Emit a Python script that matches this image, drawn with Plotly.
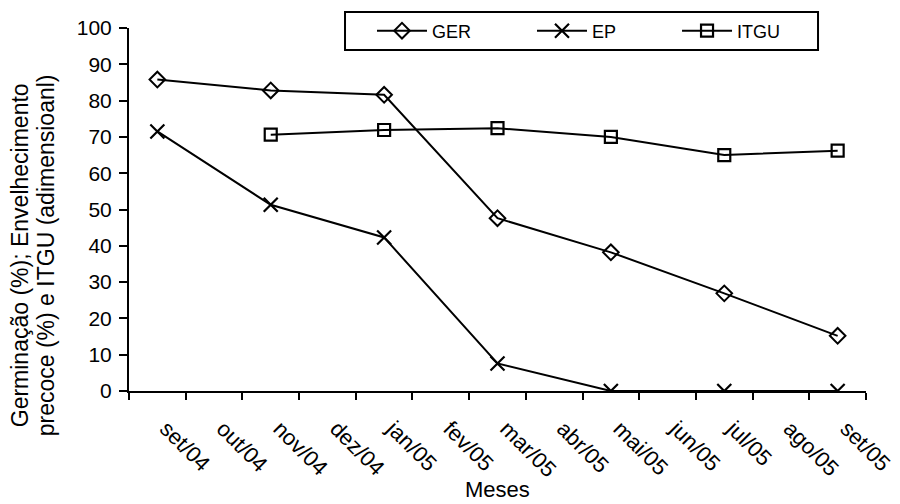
import plotly.graph_objects as go

months = ["set/04", "out/04", "nov/04", "dez/04", "jan/05", "fev/05", "mar/05",
          "abr/05", "mai/05", "jun/05", "jul/05", "ago/05", "set/05"]

ger_x = ["set/04", "nov/04", "jan/05", "mar/05", "mai/05", "jul/05", "set/05"]
ger_y = [85.8, 82.8, 81.6, 47.6, 38.2, 26.9, 15.2]

ep_x = ["set/04", "nov/04", "jan/05", "mar/05", "mai/05", "jul/05", "set/05"]
ep_y = [71.5, 51.3, 42.3, 7.6, 0, 0, 0]

itgu_x = ["nov/04", "jan/05", "mar/05", "mai/05", "jul/05", "set/05"]
itgu_y = [70.6, 71.9, 72.4, 70.0, 65.0, 66.2]

FONT = "Liberation Sans, Arial, sans-serif"

fig = go.Figure()
fig.add_trace(go.Scatter(x=ger_x, y=ger_y, name="GER", mode="lines+markers",
                         legend="legend",
                         line=dict(color="black", width=2),
                         marker=dict(symbol="diamond-open", size=12, color="black",
                                     line=dict(width=2, color="black"))))
fig.add_trace(go.Scatter(x=ep_x, y=ep_y, name="EP", mode="lines+markers",
                         legend="legend2",
                         line=dict(color="black", width=2),
                         marker=dict(symbol="x-thin-open", size=14, color="black",
                                     line=dict(width=2.2, color="black"))))
fig.add_trace(go.Scatter(x=itgu_x, y=itgu_y, name="ITGU", mode="lines+markers",
                         legend="legend3",
                         line=dict(color="black", width=2),
                         marker=dict(symbol="square-open", size=12, color="black",
                                     line=dict(width=2.2, color="black"))))

leg_common = dict(orientation="h", yanchor="middle", xanchor="left", y=0.9917,
                  borderwidth=0, bgcolor="rgba(0,0,0,0)",
                  font=dict(size=18, family=FONT), itemwidth=50)

fig.update_layout(
    width=892, height=496,
    margin=dict(l=121, r=34, t=20, b=113, autoexpand=False),
    paper_bgcolor="white", plot_bgcolor="white",
    font=dict(family=FONT, size=20, color="black"),
    showlegend=True,
    legend=dict(x=0.3297, **leg_common),
    legend2=dict(x=0.5468, **leg_common),
    legend3=dict(x=0.7436, **leg_common),
    xaxis=dict(type="category", categoryorder="array", categoryarray=months,
               range=[-0.5, 12.5], tickmode="array", tickvals=months, ticktext=months,
               tickson="boundaries", ticks="outside", ticklen=7, tickwidth=2,
               tickcolor="black", showline=True, linecolor="black", linewidth=2,
               showgrid=False, zeroline=False, tickangle=45, ticklabelstandoff=14,
               ticklabelshift=9,
               tickfont=dict(size=22, family=FONT)),
    yaxis=dict(range=[0, 100], tickvals=list(range(0, 101, 10)), ticks="outside",
               ticklen=8, tickwidth=2, tickcolor="black", showline=True,
               linecolor="black", linewidth=2, showgrid=False, zeroline=False,
               ticklabelstandoff=3,
               tickfont=dict(size=21, family=FONT)),
)

fig.add_shape(type="rect", xref="paper", yref="paper",
              x0=0.2931, x1=0.9349, y0=0.9394, y1=1.0441,
              line=dict(color="black", width=2), fillcolor="rgba(0,0,0,0)",
              layer="above")

fig.add_annotation(text="Meses", xref="paper", yref="paper", x=0.5, y=-0.2727,
                   xanchor="center", yanchor="middle", showarrow=False,
                   font=dict(size=22, family=FONT))
fig.add_annotation(text="Germinação (%); Envelhecimento",
                   xref="paper", yref="paper", x=-0.1479, y=0.374, textangle=-90,
                   xanchor="center", yanchor="middle", showarrow=False,
                   font=dict(size=23, family=FONT))
fig.add_annotation(text="precoce (%) e ITGU (adimensioanl)",
                   xref="paper", yref="paper", x=-0.1126, y=0.374, textangle=-90,
                   xanchor="center", yanchor="middle", showarrow=False,
                   font=dict(size=23, family=FONT))

fig.write_html("out.html")
